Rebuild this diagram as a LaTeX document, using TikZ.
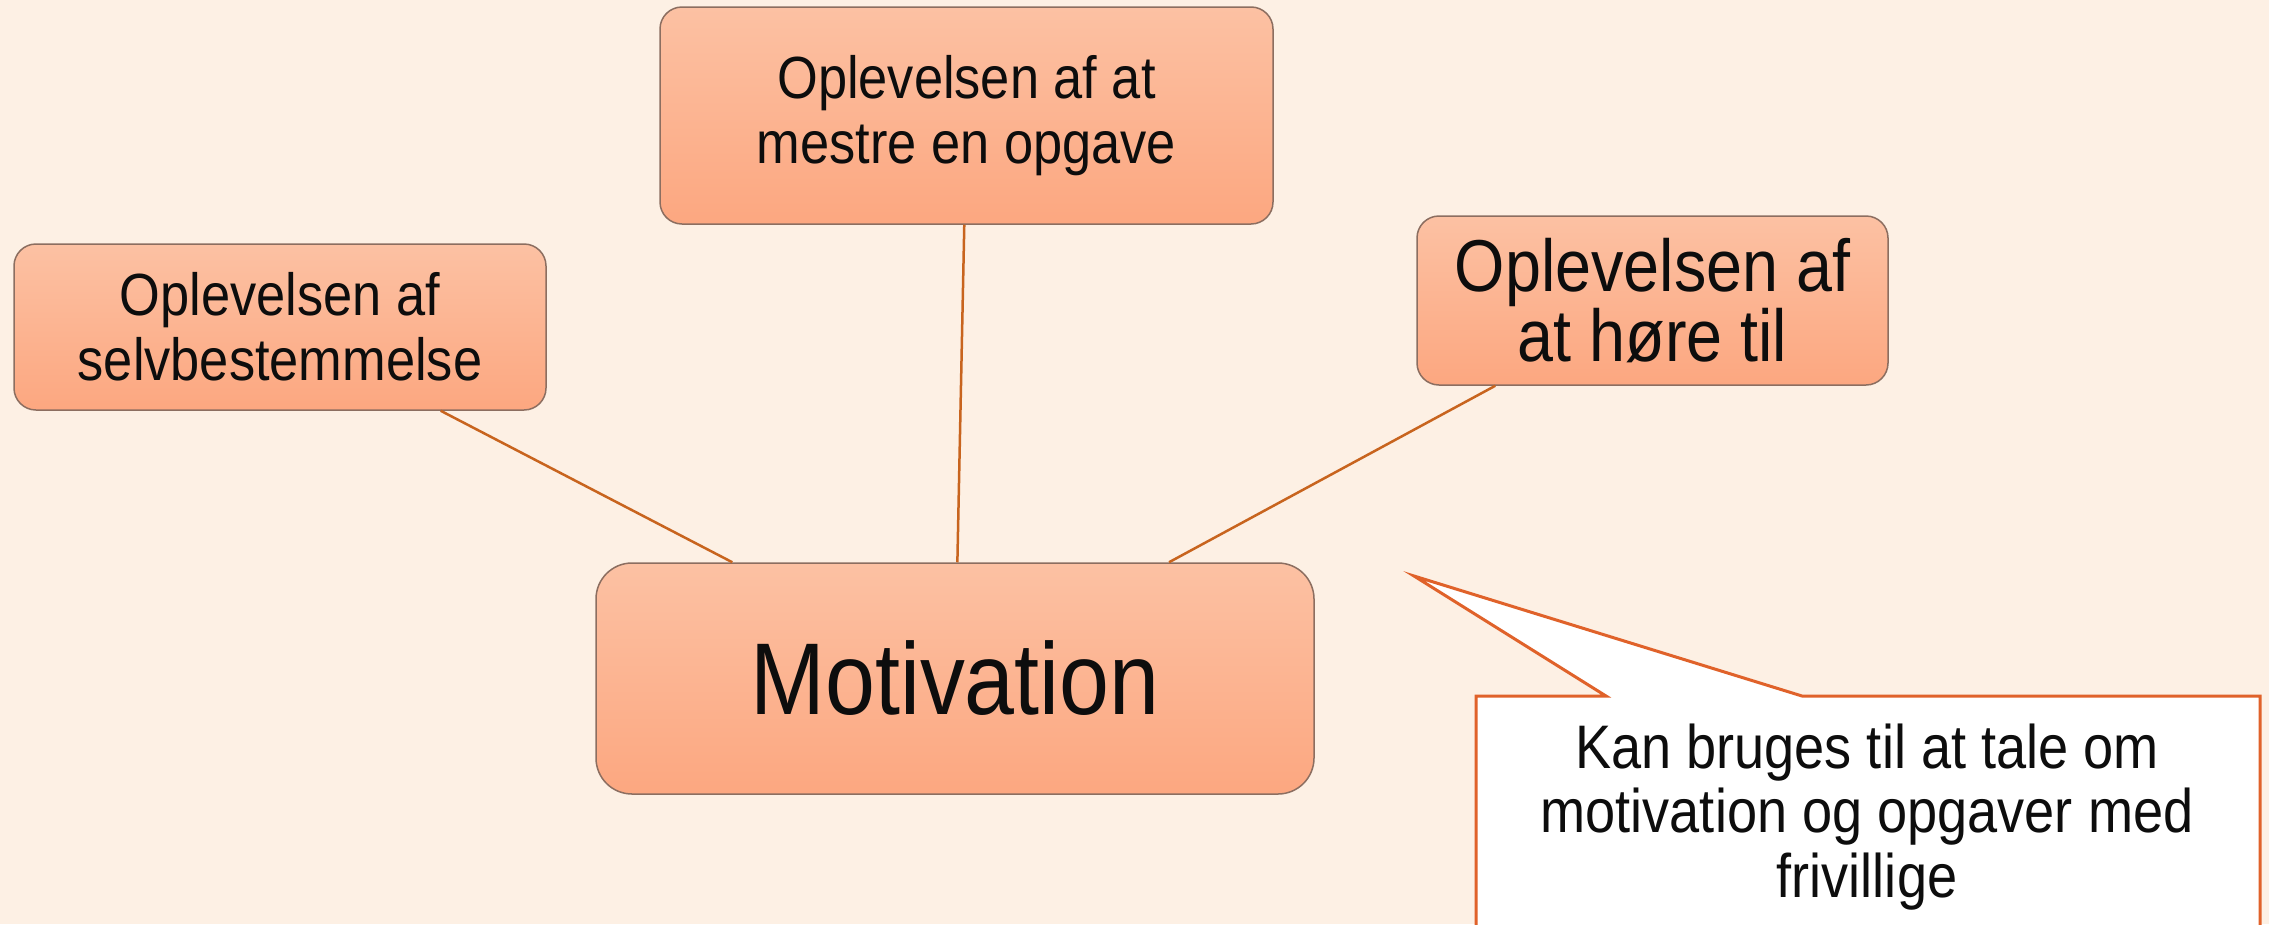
\documentclass[tikz,border=0pt]{standalone}
\usepackage{fontspec}
\setmainfont{Liberation Sans}[FakeStretch=0.88]
\definecolor{bgc}{HTML}{FDF0E4}
\definecolor{boxtop}{HTML}{FCC1A3}
\definecolor{boxbot}{HTML}{FCA780}
\definecolor{boxline}{HTML}{8C6E60}
\definecolor{conn}{HTML}{C8641E}
\definecolor{calloutline}{HTML}{E0622A}
\begin{document}
\begin{tikzpicture}[x=1pt,y=-1pt,
  box/.style={draw=boxline, line width=1.5pt, top color=boxtop, bottom color=boxbot,
    rounded corners=22pt, inner sep=0pt, align=center, text=black!95},
  conline/.style={draw=conn, line width=2.5pt},
  smalltext/.style={font=\fontsize{59.5}{65}\selectfont},
]
\useasboundingbox (0,0) rectangle (2269,924);
\fill[bgc] (0,0) rectangle (2269,924);
% callout
\draw[calloutline, line width=3pt, fill=white]
  (1476,696) -- (1606,696) -- (1414,576) -- (1802,696) -- (2260,696) -- (2260,940) -- (1476,940) -- cycle;
\node[font=\fontsize{61.5}{64.5}\selectfont, align=center, text=black!95] (note) at (1867,817)
  {Kan bruges til at tale om\\motivation og opgaver med\\frivillige};
% boxes
\node[box, minimum width=613pt, minimum height=217pt, smalltext] (mastre) at (966.5,115.5)
  {Oplevelsen af at\\mestre en opgave};
\node[box, minimum width=532pt, minimum height=166pt, smalltext] (selv) at (280,327)
  {Oplevelsen af\\selvbestemmelse};
\node[box, minimum width=471pt, minimum height=169pt, font=\fontsize{73.5}{65}\selectfont] (hore) at (1652.5,300.5)
  {Oplevelsen af\\at høre til};
\node[box, minimum width=718pt, minimum height=231pt, rounded corners=36pt, font=\fontsize{102}{110}\selectfont] (mot) at (955,678.5)
  {Motivation};
% connectors
\draw[conline] (selv) -- (mot);
\draw[conline] (mastre) -- (mot);
\draw[conline] (hore) -- (mot);
\end{tikzpicture}
\end{document}
